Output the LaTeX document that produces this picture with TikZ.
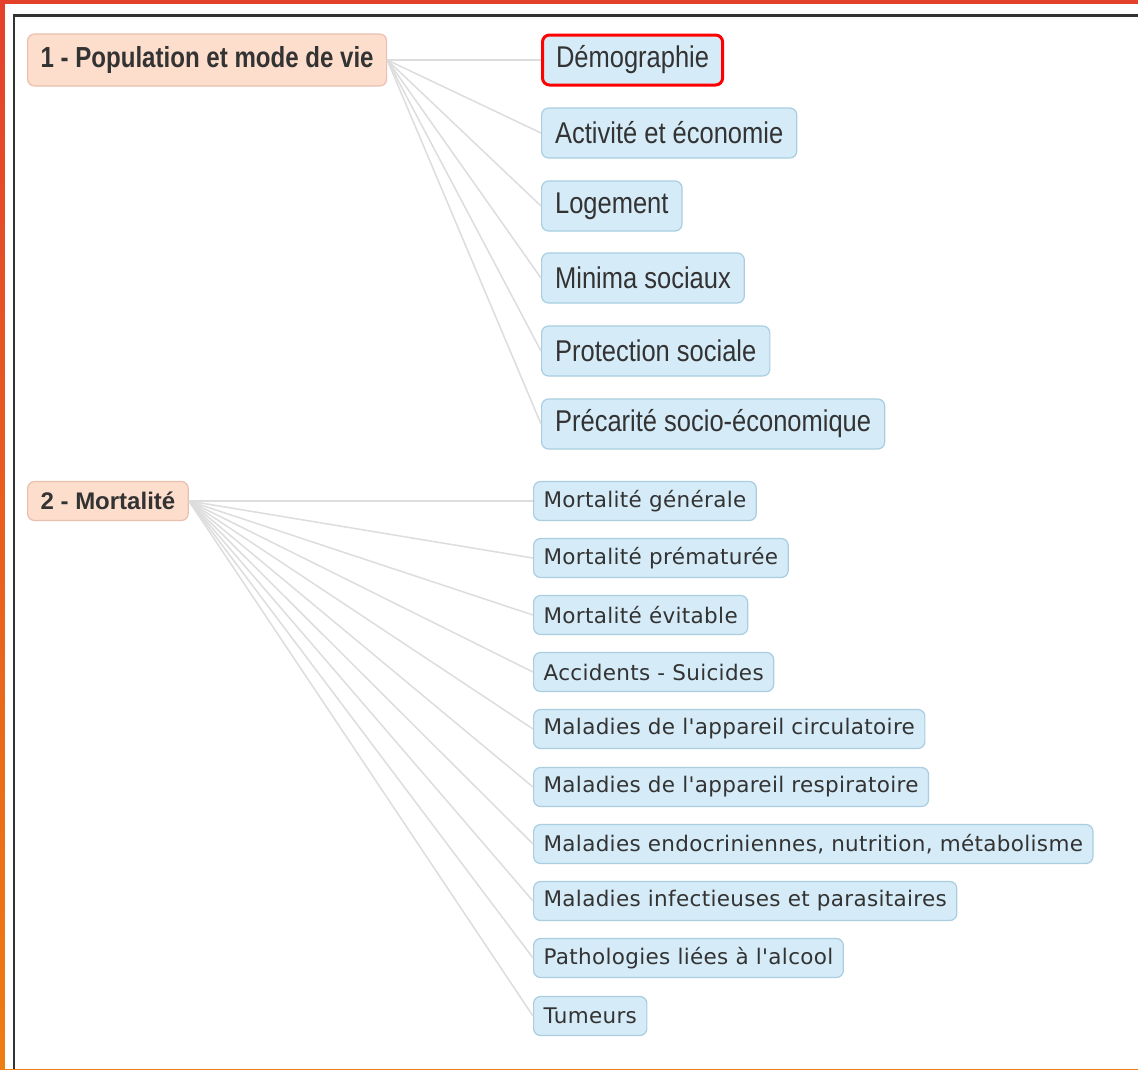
\documentclass[tikz,border=0pt]{standalone}
\usepackage{fontspec}
\setmainfont{Liberation Sans}
\newfontfamily\narrowfont[FakeStretch=0.85]{Liberation Sans}
\newfontfamily\headfont[FakeStretch=0.83]{Liberation Sans Bold}
\newfontfamily\leaffont[LetterSpace=1.5]{DejaVu Sans}
\definecolor{txtgray}{HTML}{333333}
\definecolor{peachfill}{HTML}{FDDDCC}
\definecolor{peachline}{HTML}{EBBFAE}
\definecolor{bluefill}{HTML}{D5EBF7}
\definecolor{blueline}{HTML}{A8CEE0}
\definecolor{linkgray}{HTML}{DDDDDD}
\definecolor{framered}{HTML}{E4412B}
\definecolor{frameorange}{HTML}{EE7D12}
\tikzset{
  themebox/.style={draw=peachline, fill=peachfill, rounded corners=7pt, line width=1.2pt,
    text=txtgray, inner xsep=13pt, anchor=west},
  bigleaf/.style={draw=blueline, fill=bluefill, rounded corners=7pt, line width=1.2pt,
    text=txtgray, inner xsep=13.5pt, minimum height=50pt, anchor=west,
    font=\narrowfont\fontsize{30}{36}\selectfont},
  smallleaf/.style={draw=blueline, fill=bluefill, rounded corners=7pt, line width=1.2pt,
    text=txtgray, inner xsep=10pt, minimum height=39pt, anchor=west,
    font=\leaffont\fontsize{21.5}{26}\selectfont},
  link/.style={draw=linkgray, line width=1.5pt}
}
\begin{document}
\begin{tikzpicture}[x=1pt,y=-1pt]
  \useasboundingbox (0,0) rectangle (1138,1069);
  % Background
  \shade[top color=framered, bottom color=frameorange] (0,0) rectangle (1138,1069);
  \fill[white] (4.5,3.5) rectangle (1138,1069);
  \draw[txtgray, line width=2.5pt] (14,1069) -- (14,15.5) -- (1138,15.5);

  % Themes
  \node[themebox, minimum height=52pt, font=\headfont\fontsize{29}{34}\selectfont] (pop) at (27,60) {1 - Population et mode de vie};
  \node[themebox, minimum height=39pt, font=\bfseries\fontsize{24}{29}\selectfont] (mort) at (27,501) {2 - Mortalité};

  % Population et mode de vie
  \node[bigleaf, draw=red, line width=3pt] (demo) at (541,60) {Démographie};
  \node[bigleaf] (activ) at (541,133) {Activité et économie};
  \node[bigleaf] (loge) at (541,206) {Logement};
  \node[bigleaf] (minima) at (541,278) {Minima sociaux};
  \node[bigleaf] (protec) at (541,351) {Protection sociale};
  \node[bigleaf] (precar) at (541,424) {Précarité socio-économique};

  % Mortalite
  \node[smallleaf] (gen) at (533,501) {Mortalité générale};
  \node[smallleaf] (prem) at (533,558) {Mortalité prématurée};
  \node[smallleaf] (evit) at (533,615) {Mortalité évitable};
  \node[smallleaf] (accid) at (533,672) {Accidents - Suicides};
  \node[smallleaf] (circ) at (533,729) {Maladies de l'appareil circulatoire};
  \node[smallleaf] (resp) at (533,787) {Maladies de l'appareil respiratoire};
  \node[smallleaf] (endo) at (533,844) {Maladies endocriniennes, nutrition, métabolisme};
  \node[smallleaf] (infec) at (533,901) {Maladies infectieuses et parasitaires};
  \node[smallleaf] (alcool) at (533,958) {Pathologies liées à l'alcool};
  \node[smallleaf] (tumeur) at (533,1016) {Tumeurs};

  % Links
  \draw[link] (pop.east) -- (demo.west);
  \draw[link] (pop.east) -- (activ.west);
  \draw[link] (pop.east) -- (loge.west);
  \draw[link] (pop.east) -- (minima.west);
  \draw[link] (pop.east) -- (protec.west);
  \draw[link] (pop.east) -- (precar.west);

  \draw[link] (mort.east) -- (gen.west);
  \draw[link] (mort.east) -- (prem.west);
  \draw[link] (mort.east) -- (evit.west);
  \draw[link] (mort.east) -- (accid.west);
  \draw[link] (mort.east) -- (circ.west);
  \draw[link] (mort.east) -- (resp.west);
  \draw[link] (mort.east) -- (endo.west);
  \draw[link] (mort.east) -- (infec.west);
  \draw[link] (mort.east) -- (alcool.west);
  \draw[link] (mort.east) -- (tumeur.west);

\end{tikzpicture}
\end{document}
